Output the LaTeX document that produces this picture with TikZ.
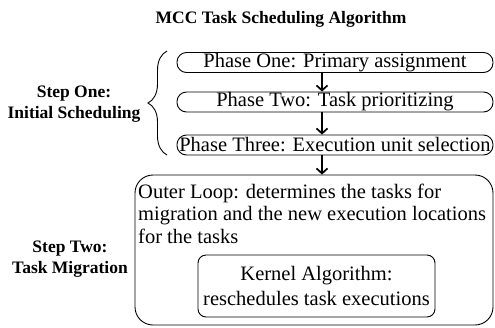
\documentclass[tikz,border=0pt]{standalone}
\usepackage{fontspec}
\setmainfont{Liberation Serif}
\usetikzlibrary{arrows.meta,decorations.pathreplacing}

\begin{document}
\begin{tikzpicture}[x=1pt,y=-1pt]
      \tikzset{phase/.style={draw, line width=0.9pt, rounded corners=9.5pt, minimum width=316pt, minimum height=20pt, inner sep=0pt, font=\fontsize{20.5}{23}\selectfont},
               stepname/.style={align=center, font=\fontsize{17.5}{21}\selectfont\bfseries},
               flow/.style={-{Straight Barb[length=5pt,width=11pt]}, line width=1.7pt}}
      \useasboundingbox (0,0) rectangle (495,327);
%% Title and step labels
      	\node[stepname, anchor=base] (title) at (281,23) {MCC Task Scheduling Algorithm};
      	\node[stepname, anchor=base] (stepone) at (74,118) {Step One:\\Initial Scheduling};
      	\node[stepname, anchor=base] (steptwo) at (70,273) {Step Two:\\Task Migration};
%% Phases
      	\node[phase] (phase1) at (335,62.5) {Phase One: Primary assignment};
      	\node[phase] (phase2) at (335,102) {Phase Two: Task prioritizing};
      	\node[phase] (phase3) at (335,145) {Phase Three: Execution unit selection};
%% Migration boxes
      	\node[draw, line width=0.9pt, rounded corners=18pt, minimum width=358pt, minimum height=150pt] (outer) at (314,250) {};
      	\node[anchor=base west, align=left, inner sep=0pt, font=\fontsize{20.5}{22.5}\selectfont] (outertext) at (138,243) {Outer Loop: determines the tasks for\\migration and the new execution locations\\for the tasks};
      	\node[draw, line width=0.9pt, rounded corners=8pt, minimum width=237pt, minimum height=62pt, align=center, font=\fontsize{20.5}{25}\selectfont] (kernel) at (316.5,286) {Kernel Algorithm:\\reschedules task executions};
      	\coordinate (spine) at (322,0);
%Arrows
		\draw[flow] (phase1.south -| spine) -- (phase2.north -| spine);
		\draw[flow] (phase2.south -| spine) -- (phase3.north -| spine);
		\draw[flow] (phase3.south -| spine) -- (outer.north -| spine);
		\draw[decorate, decoration={brace, amplitude=19pt}, line width=0.9pt] (167,155) -- (167,51);
	\end{tikzpicture}
\end{document}
